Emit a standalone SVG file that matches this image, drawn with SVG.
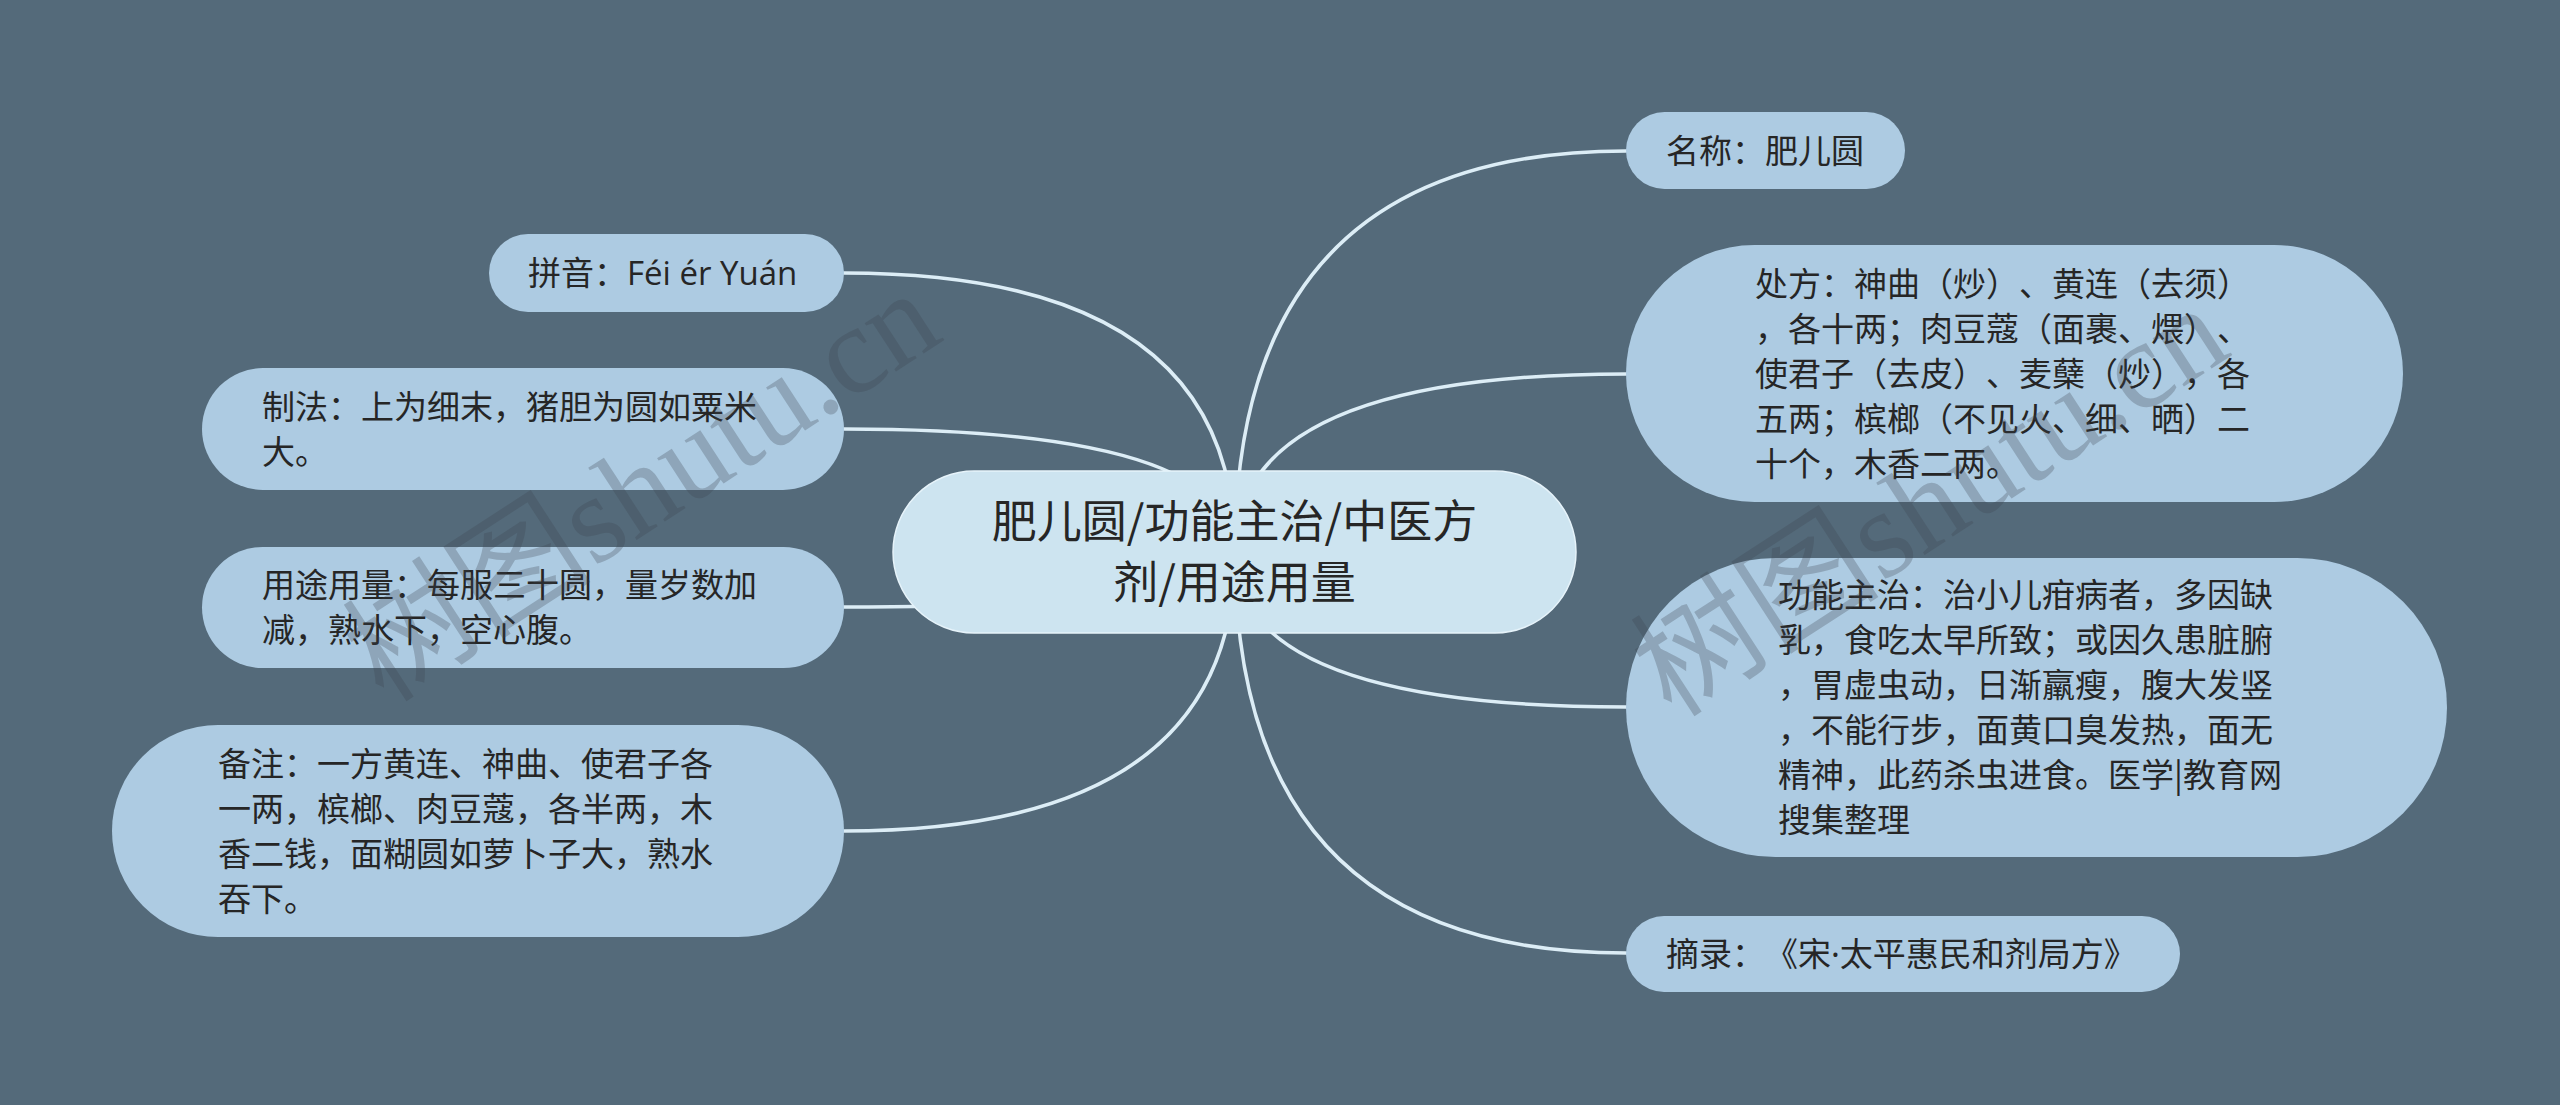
<svg xmlns="http://www.w3.org/2000/svg" width="2560" height="1105" viewBox="0 0 2560 1105">
<style>
text{text-spacing-trim:space-all}
.bg{fill:#546a7a}
.node{fill:#adcbe2}
.center{fill:#cde4f0;stroke:#e6f3fa;stroke-width:1.5}
.link{fill:none;stroke:#dcedf6;stroke-width:3.5;stroke-linecap:round}
.t{font-family:"Noto Sans CJK SC","Noto Sans",sans-serif;font-size:33px;fill:#262626}
.tc{font-family:"Noto Sans CJK SC","Noto Sans",sans-serif;font-size:45px;fill:#262626;text-anchor:middle}
.dot{font-family:"Noto Sans",sans-serif}
.lat{font-family:"Open Sans","Noto Sans",sans-serif}
.wm{font-family:"Liberation Serif","Noto Sans CJK SC",serif;font-size:125px;fill:#3c4650;fill-opacity:0.28}
</style>
<rect class="bg" x="0" y="0" width="2560" height="1105"/>
<g id="connectors">
<path class="link" d="M1235,552 Q1235,151 1626,151"/>
<path class="link" d="M1235,552 Q1235,374 1626,374"/>
<path class="link" d="M1235,552 Q1235,707 1626,707"/>
<path class="link" d="M1235,552 Q1235,953 1626,953"/>
<path class="link" d="M1235,552 Q1235,273 844,273"/>
<path class="link" d="M1235,552 Q1235,429 844,429"/>
<path class="link" d="M1235,552 Q1235,607 844,607"/>
<path class="link" d="M1235,552 Q1235,831 844,831"/>
</g>
<g id="center">
<rect class="center" x="893" y="471" width="683" height="162" rx="81"/>
<text class="tc" x="1234.5" y="538">肥儿圆/功能主治/中医方</text>
<text class="tc" x="1234.5" y="599">剂/用途用量</text>
</g>
<g id="node-name">
<rect class="node" x="1626" y="112" width="279" height="77" rx="38.5"/>
<text class="t" x="1666" y="162.5">名称：肥儿圆</text>
</g>
<g id="node-recipe">
<rect class="node" x="1626" y="245" width="777" height="257" rx="128.5"/>
<text class="t" x="1755" y="296">处方：神曲（炒）、黄连（去须）</text>
<text class="t" x="1755" y="341">，各十两；肉豆蔻（面裹、煨）、</text>
<text class="t" x="1755" y="386">使君子（去皮）、麦蘖（炒），各</text>
<text class="t" x="1755" y="431">五两；槟榔（不见火、细、晒）二</text>
<text class="t" x="1755" y="476">十个，木香二两。</text>
</g>
<g id="node-function">
<rect class="node" x="1626" y="558" width="821" height="299" rx="149.5"/>
<text class="t" x="1778" y="607">功能主治：治小儿疳病者，多因缺</text>
<text class="t" x="1778" y="652">乳，食吃太早所致；或因久患脏腑</text>
<text class="t" x="1778" y="697">，胃虚虫动，日渐羸瘦，腹大发竖</text>
<text class="t" x="1778" y="742">，不能行步，面黄口臭发热，面无</text>
<text class="t" x="1778" y="787">精神，此药杀虫进食。医学|教育网</text>
<text class="t" x="1778" y="832">搜集整理</text>
</g>
<g id="node-source">
<rect class="node" x="1626" y="916" width="554" height="76" rx="38"/>
<text class="t" x="1666" y="965.5">摘录：《宋<tspan class="dot">·</tspan>太平惠民和剂局方》</text>
</g>
<g id="node-pinyin">
<rect class="node" x="489" y="234" width="355" height="78" rx="39"/>
<text class="t" x="528" y="285">拼音：<tspan class="lat">Féi ér Yuán</tspan></text>
</g>
<g id="node-method">
<rect class="node" x="202" y="368" width="642" height="122" rx="61"/>
<text class="t" x="262" y="418.5">制法：上为细末，猪胆为圆如粟米</text>
<text class="t" x="262" y="463.5">大。</text>
</g>
<g id="node-usage">
<rect class="node" x="202" y="547" width="642" height="121" rx="60.5"/>
<text class="t" x="262" y="597">用途用量：每服三十圆，量岁数加</text>
<text class="t" x="262" y="642">减，熟水下，空心腹。</text>
</g>
<g id="node-note">
<rect class="node" x="112" y="725" width="732" height="212" rx="106"/>
<text class="t" x="218" y="775.5">备注：一方黄连、神曲、使君子各</text>
<text class="t" x="218" y="820.5">一两，槟榔、肉豆蔻，各半两，木</text>
<text class="t" x="218" y="865.5">香二钱，面糊圆如萝卜子大，熟水</text>
<text class="t" x="218" y="910.5">吞下。</text>
</g>
<text class="wm" transform="translate(384,704) rotate(-33)">树图shutu.cn</text>
<text class="wm" transform="translate(1672,719) rotate(-33)">树图shutu.cn</text>
</svg>
